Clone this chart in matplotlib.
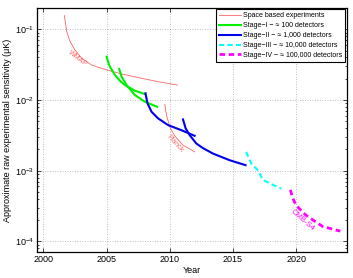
import matplotlib
matplotlib.use("Agg")
import matplotlib.pyplot as plt
from matplotlib.ticker import LogLocator, NullFormatter, FixedLocator

plt.rcParams['font.family'] = ['Liberation Sans', 'DejaVu Sans']
plt.rcParams['mathtext.fontset'] = 'custom'
plt.rcParams['mathtext.rm'] = 'Liberation Sans'
plt.rcParams['mathtext.it'] = 'Liberation Sans:italic'

# ---- data ----
wmap_year = [2001.66, 2001.85, 2002.11, 2002.50, 2003.03, 2003.82, 2005.0,
             2006.19, 2007.77, 2009.08, 2010.61]
wmap_val = [0.157, 0.093, 0.0671, 0.0512, 0.039, 0.0313, 0.0267,
            0.0234, 0.0203, 0.0182, 0.0163]

planck_year = [2009.61, 2009.74, 2010.0, 2010.39, 2011.05, 2011.97]
planck_val = [0.00869, 0.00612, 0.00418, 0.00312, 0.0023, 0.00185]

s1a_year = [2005.0, 2005.13, 2005.26, 2005.66, 2006.05, 2006.45, 2007.24, 2008.03]
s1a_val = [0.0411, 0.0343, 0.0297, 0.0226, 0.0188, 0.0163, 0.01355, 0.01217]

s1b_year = [2006.0, 2006.19, 2006.58, 2007.24, 2008.03, 2009.0]
s1b_val = [0.0275, 0.0214, 0.0163, 0.01178, 0.00946, 0.00803]

s2a_year = [2008.08, 2008.24, 2008.56, 2009.08, 2009.87, 2010.92, 2011.97]
s2a_val = [0.01245, 0.00897, 0.00682, 0.0055, 0.00442, 0.00375, 0.00312]

s2b_year = [2011.05, 2011.26, 2011.58, 2012.1, 2012.63, 2013.42, 2014.74, 2016.0]
s2b_val = [0.00532, 0.00397, 0.00319, 0.00243, 0.00209, 0.00175, 0.00141, 0.0012]

s3_year = [2016.05, 2016.45, 2016.97, 2017.36, 2017.93, 2018.82]
s3_val = [0.00185, 0.00127, 0.00102, 0.00075, 0.00066, 0.000559]

s4_year = [2019.55, 2019.71, 2020.0, 2020.79, 2022.1, 2023.5]
s4_val = [0.000537, 0.00042, 0.000324, 0.000234, 0.000163, 0.00014]

legend_labels = ["Space based experiments",
                 "Stage\u2212I \u2212 \u2248 100 detectors",
                 "Stage\u2212II \u2212 \u2248 1,000 detectors",
                 "Stage\u2212III \u2212 \u2248 10,000 detectors",
                 "Stage\u2212IV \u2212 \u2248 100,000 detectors"]

x_ticks = [2000, 2005, 2010, 2015, 2020]

red = '#ff6464'
green = '#00f000'
blue = '#0000ee'
cyan = '#00ffff'
magenta = '#ff00ff'

fig = plt.figure(figsize=(3.53, 2.78), dpi=100)
ax = fig.add_axes([0.105, 0.092, 0.877, 0.879])

l_space, = ax.plot(wmap_year, wmap_val, color=red, lw=0.6)
ax.plot(planck_year, planck_val, color=red, lw=0.6)
l1, = ax.plot(s1a_year, s1a_val, color=green, lw=1.5)
ax.plot(s1b_year, s1b_val, color=green, lw=1.5)
l2, = ax.plot(s2a_year, s2a_val, color=blue, lw=1.5)
ax.plot(s2b_year, s2b_val, color=blue, lw=1.5)
l3, = ax.plot(s3_year, s3_val, color=cyan, lw=1.5, dashes=(2.5, 1.6))
l4, = ax.plot(s4_year, s4_val, color=magenta, lw=2.0, dashes=(2.0, 1.3))

ax.text(2002.70, 0.0382, "WMAP", color=red, fontsize=5, rotation=-38,
        ha='center', va='center')
ax.text(2010.39, 0.00243, "Planck", color=red, fontsize=5, rotation=-47,
        ha='center', va='center')
ax.text(2020.53, 0.0002, "CMB-S4", color=magenta, fontsize=5.5, rotation=-41,
        ha='center', va='center')

ax.set_yscale('log')
ax.set_xlim(1999.5, 2024)
ax.set_ylim(7e-5, 0.2)
ax.xaxis.set_major_locator(FixedLocator(x_ticks))
ax.yaxis.set_major_locator(LogLocator(base=10, numticks=10))
ax.yaxis.set_minor_locator(LogLocator(base=10, subs=range(2, 10), numticks=20))
ax.yaxis.set_minor_formatter(NullFormatter())
ax.tick_params(which='both', direction='in', top=True, right=True, labelsize=6.5,
               width=0.5, pad=2)
ax.tick_params(which='major', length=3)
ax.tick_params(which='minor', length=1.5)
ax.grid(True, which='major', linestyle=(0, (1, 2)), color='#aaaaaa', lw=0.6)
for s in ax.spines.values():
    s.set_linewidth(0.9)

ax.set_xlabel("Year", fontsize=6.5, labelpad=1)
ax.set_ylabel("Approximate raw experimental sensitivity (\u03bcK)", fontsize=6.5,
              labelpad=2)

leg = ax.legend([l_space, l1, l2, l3, l4], legend_labels, loc='upper right',
                fontsize=5, frameon=True, fancybox=False, framealpha=1,
                edgecolor='black', borderaxespad=0.2, handlelength=3.2,
                labelspacing=0.42, handletextpad=0.3, borderpad=0.4)
leg.get_frame().set_linewidth(0.8)

fig.savefig("out.png", dpi=100)
